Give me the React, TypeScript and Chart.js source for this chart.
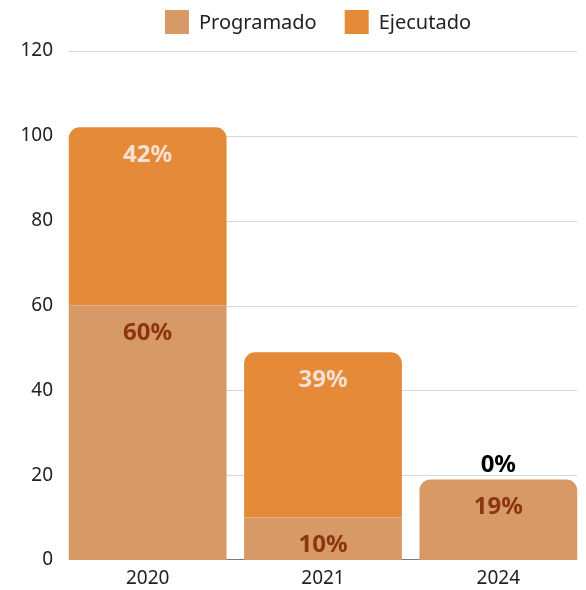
import React, { useEffect, useRef } from 'react';
import { Chart, registerables } from 'chart.js';

Chart.register(...registerables);

const categories = ['2020', '2021', '2024'];
const programado = [60, 10, 19];
const ejecutado = [42, 39, 0];
const seriesNames = ['Programado', 'Ejecutado'];

const FONT = '"Noto Sans", sans-serif';
const COL_PROG = '#D79A66';
const COL_EJEC = '#E48A38';
const LBL_PROG = '#8B3512';
const LBL_EJEC = '#F6E0D3';
const TEXT = '#222222';

export default function App() {
  const ref = useRef<HTMLCanvasElement>(null);

  useEffect(() => {
    if (!ref.current) return;

    const gridPlugin = {
      id: 'customGrid',
      beforeDatasetsDraw(chart: any) {
        const ctx = chart.ctx;
        const y = chart.scales.y;
        let minX = Infinity;
        let maxX = -Infinity;
        chart.getSortedVisibleDatasetMetas().forEach((m: any) =>
          m.data.forEach((el: any) => {
            minX = Math.min(minX, el.x - el.width / 2);
            maxX = Math.max(maxX, el.x + el.width / 2);
          })
        );
        ctx.save();
        ctx.lineWidth = 1;
        y.ticks.forEach((t: any) => {
          if (t.value === 0) return;
          const py = Math.round(y.getPixelForValue(t.value)) + 0.5;
          ctx.strokeStyle = '#d6d6d6';
          ctx.beginPath();
          ctx.moveTo(minX, py);
          ctx.lineTo(maxX, py);
          ctx.stroke();
        });
        const p0 = Math.round(y.getPixelForValue(0)) - 0.5;
        ctx.strokeStyle = '#7a7a7a';
        ctx.beginPath();
        ctx.moveTo(minX, p0);
        ctx.lineTo(maxX, p0);
        ctx.stroke();
        ctx.restore();
      },
    };

    const labelPlugin = {
      id: 'barLabels',
      afterDatasetsDraw(chart: any) {
        const ctx = chart.ctx;
        ctx.save();
        ctx.font = `bold 24px ${FONT}`;
        ctx.textAlign = 'center';
        ctx.textBaseline = 'middle';
        chart.data.datasets.forEach((ds: any, di: number) => {
          const meta = chart.getDatasetMeta(di);
          meta.data.forEach((el: any, i: number) => {
            const v = ds.data[i];
            const top = Math.min(el.y, el.base);
            if (v > 0) {
              ctx.fillStyle = di === 0 ? LBL_PROG : LBL_EJEC;
              ctx.fillText(`${v}%`, el.x, top + 28);
            } else {
              ctx.fillStyle = '#000000';
              ctx.fillText(`${v}%`, el.x, top - 14);
            }
          });
        });
        ctx.restore();
      },
    };

    const legendPlugin = {
      id: 'customLegend',
      afterDraw(chart: any) {
        const ctx = chart.ctx;
        const area = chart.chartArea;
        ctx.save();
        ctx.font = `20px ${FONT}`;
        ctx.textBaseline = 'middle';
        ctx.textAlign = 'left';
        const box = 24;
        const gapText = 10;
        const gapItem = 28;
        const colors = [COL_PROG, COL_EJEC];
        const widths = seriesNames.map((n) => box + gapText + ctx.measureText(n).width);
        const total = widths.reduce((a, b) => a + b, 0) + gapItem * (widths.length - 1);
        let x = (area.left + area.right) / 2 - 5 - total / 2;
        const yc = 22;
        seriesNames.forEach((n, i) => {
          ctx.fillStyle = colors[i];
          ctx.fillRect(x, yc - box / 2, box, box);
          ctx.fillStyle = TEXT;
          ctx.fillText(n, x + box + gapText, yc + 1);
          x += widths[i] + gapItem;
        });
        ctx.restore();
      },
    };

    const topRadius = { topLeft: 11, topRight: 11, bottomLeft: 0, bottomRight: 0 };

    const chart = new Chart(ref.current, {
      type: 'bar',
      data: {
        labels: categories,
        datasets: [
          {
            label: seriesNames[0],
            data: programado,
            backgroundColor: COL_PROG,
            borderWidth: 0,
            borderSkipped: false,
            borderRadius: (c: any) => (ejecutado[c.dataIndex] === 0 ? topRadius : 0),
          },
          {
            label: seriesNames[1],
            data: ejecutado,
            backgroundColor: COL_EJEC,
            borderWidth: 0,
            borderSkipped: false,
            borderRadius: topRadius,
          },
        ],
      },
      options: {
        responsive: false,
        animation: false,
        layout: { padding: { top: 51, left: 0, right: 0, bottom: 0 } },
        datasets: { bar: { barPercentage: 0.9, categoryPercentage: 1 } },
        plugins: {
          legend: { display: false },
          tooltip: { enabled: false },
        },
        scales: {
          x: {
            stacked: true,
            offset: true,
            grid: { display: false, drawTicks: false, tickLength: 0 },
            border: { display: false },
            ticks: { color: TEXT, font: { family: FONT, size: 19 }, padding: 7 },
            afterFit: (s: any) => {
              s.height = 30;
            },
          },
          y: {
            stacked: true,
            min: 0,
            max: 120,
            grid: { display: false, drawTicks: false, tickLength: 0 },
            border: { display: false },
            ticks: { stepSize: 20, color: TEXT, font: { family: FONT, size: 19 }, padding: 7 },
            afterFit: (s: any) => {
              s.width = 60;
            },
          },
        },
      },
      plugins: [gridPlugin, labelPlugin, legendPlugin],
    } as any);

    return () => chart.destroy();
  }, []);

  return (
    <div style={{ position: 'absolute', left: 0, top: 0, width: 586, height: 590 }}>
      <canvas ref={ref} width={586} height={590} style={{ display: 'block' }} />
    </div>
  );
}
